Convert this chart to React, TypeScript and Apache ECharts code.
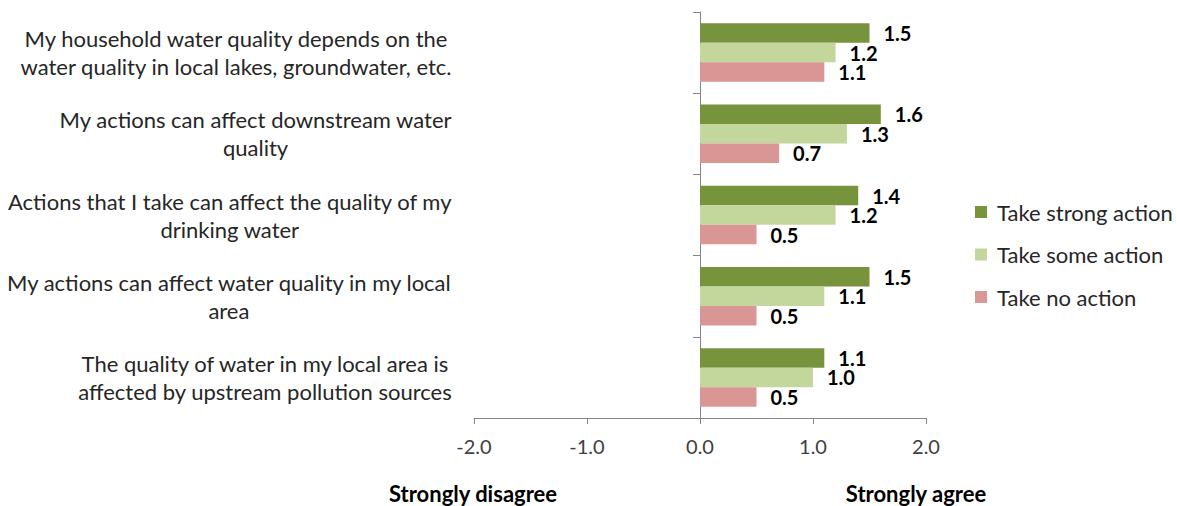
import React, { useEffect, useRef } from "react";
import * as echarts from "echarts";

const categories = [
  ["My household water quality depends on the", "water quality in local lakes, groundwater, etc."],
  ["My actions can affect downstream water", "quality"],
  ["Actions that I take can affect the quality of my", "drinking water"],
  ["My actions can affect water quality in my local", "area"],
  ["The quality of water in my local area is", "affected by upstream pollution sources"],
];
const seriesNames = ["Take strong action", "Take some action", "Take no action"];
const strongAction = [1.5, 1.6, 1.4, 1.5, 1.1];
const someAction = [1.2, 1.3, 1.2, 1.1, 1.0];
const noAction = [1.1, 0.7, 0.5, 0.5, 0.5];
const colors = ["#77933C", "#C3D69B", "#D99694"];
const xTicks = { min: -2, max: 2, interval: 1 };
const bottomLabels = ["Strongly disagree", "Strongly agree"];

const FONT = "Lato";

export default function App() {
  const ref = useRef<HTMLDivElement>(null);
  useEffect(() => {
    if (!ref.current) return;
    const chart = echarts.init(ref.current, undefined, { renderer: "svg" });
    const values = [strongAction, someAction, noAction];
    chart.setOption({
      animation: false,
      backgroundColor: "#ffffff",
      textStyle: { fontFamily: FONT },
      grid: {
        left: 474,
        top: 12,
        width: 452,
        height: 406,
        containLabel: false,
        outerBoundsMode: "none",
      },
      legend: {
        orient: "vertical",
        left: 975,
        top: 200,
        padding: 0,
        itemWidth: 12,
        itemHeight: 12,
        itemGap: 18.5,
        icon: "rect",
        textStyle: { fontFamily: FONT, fontSize: 22, color: "#262626", lineHeight: 24, padding: [0, 0, 0, 5] },
        data: seriesNames,
      },
      xAxis: {
        type: "value",
        min: xTicks.min,
        max: xTicks.max,
        interval: xTicks.interval,
        splitLine: { show: false },
        axisLine: { show: true, onZero: false, lineStyle: { color: "#868686", width: 1 } },
        axisTick: { show: true, length: 6, lineStyle: { color: "#868686" } },
        axisLabel: {
          margin: 18,
          fontFamily: FONT,
          fontSize: 20,
          color: "#404040",
          formatter: (v: number) => v.toFixed(1),
        },
      },
      yAxis: {
        type: "category",
        inverse: true,
        data: categories.map((c) => c.join("\n")),
        axisLine: { show: true, onZero: true, lineStyle: { color: "#868686", width: 1 } },
        axisTick: { show: true, length: 7, lineStyle: { color: "#868686" } },
        axisLabel: {
          margin: 22,
          fontFamily: FONT,
          fontSize: 22,
          color: "#262626",
          align: "right",
          formatter: (v: string) =>
            v
              .split("\n")
              .map((l) => `{c|${l}}`)
              .join("\n"),
          rich: {
            c: { align: "center", fontFamily: FONT, fontSize: 22, color: "#262626", lineHeight: 28 },
          },
        },
      },
      series: seriesNames.map((name, i) => ({
        name,
        type: "bar",
        data: values[i],
        barWidth: 19.5,
        barGap: "0%",
        itemStyle: { color: colors[i] },
        label: {
          show: true,
          position: "right",
          distance: 14,
          fontFamily: FONT,
          fontSize: 20,
          lineHeight: 19,
          fontWeight: "bold",
          color: "#000000",
          formatter: (p: any) => Number(p.value).toFixed(1),
        },
      })),
      graphic: [
        {
          type: "text",
          x: 473,
          y: 493,
          style: {
            text: bottomLabels[0],
            fontFamily: FONT,
            fontSize: 22,
            fontWeight: "bold",
            fill: "#000000",
            textAlign: "center",
            textVerticalAlign: "middle",
          },
        },
        {
          type: "text",
          x: 916,
          y: 493,
          style: {
            text: bottomLabels[1],
            fontFamily: FONT,
            fontSize: 22,
            fontWeight: "bold",
            fill: "#000000",
            textAlign: "center",
            textVerticalAlign: "middle",
          },
        },
      ],
    });
    return () => chart.dispose();
  }, []);
  return (
    <div
      ref={ref}
      style={{ position: "fixed", left: 0, top: 0, width: 1177, height: 506, background: "#fff" }}
    />
  );
}
